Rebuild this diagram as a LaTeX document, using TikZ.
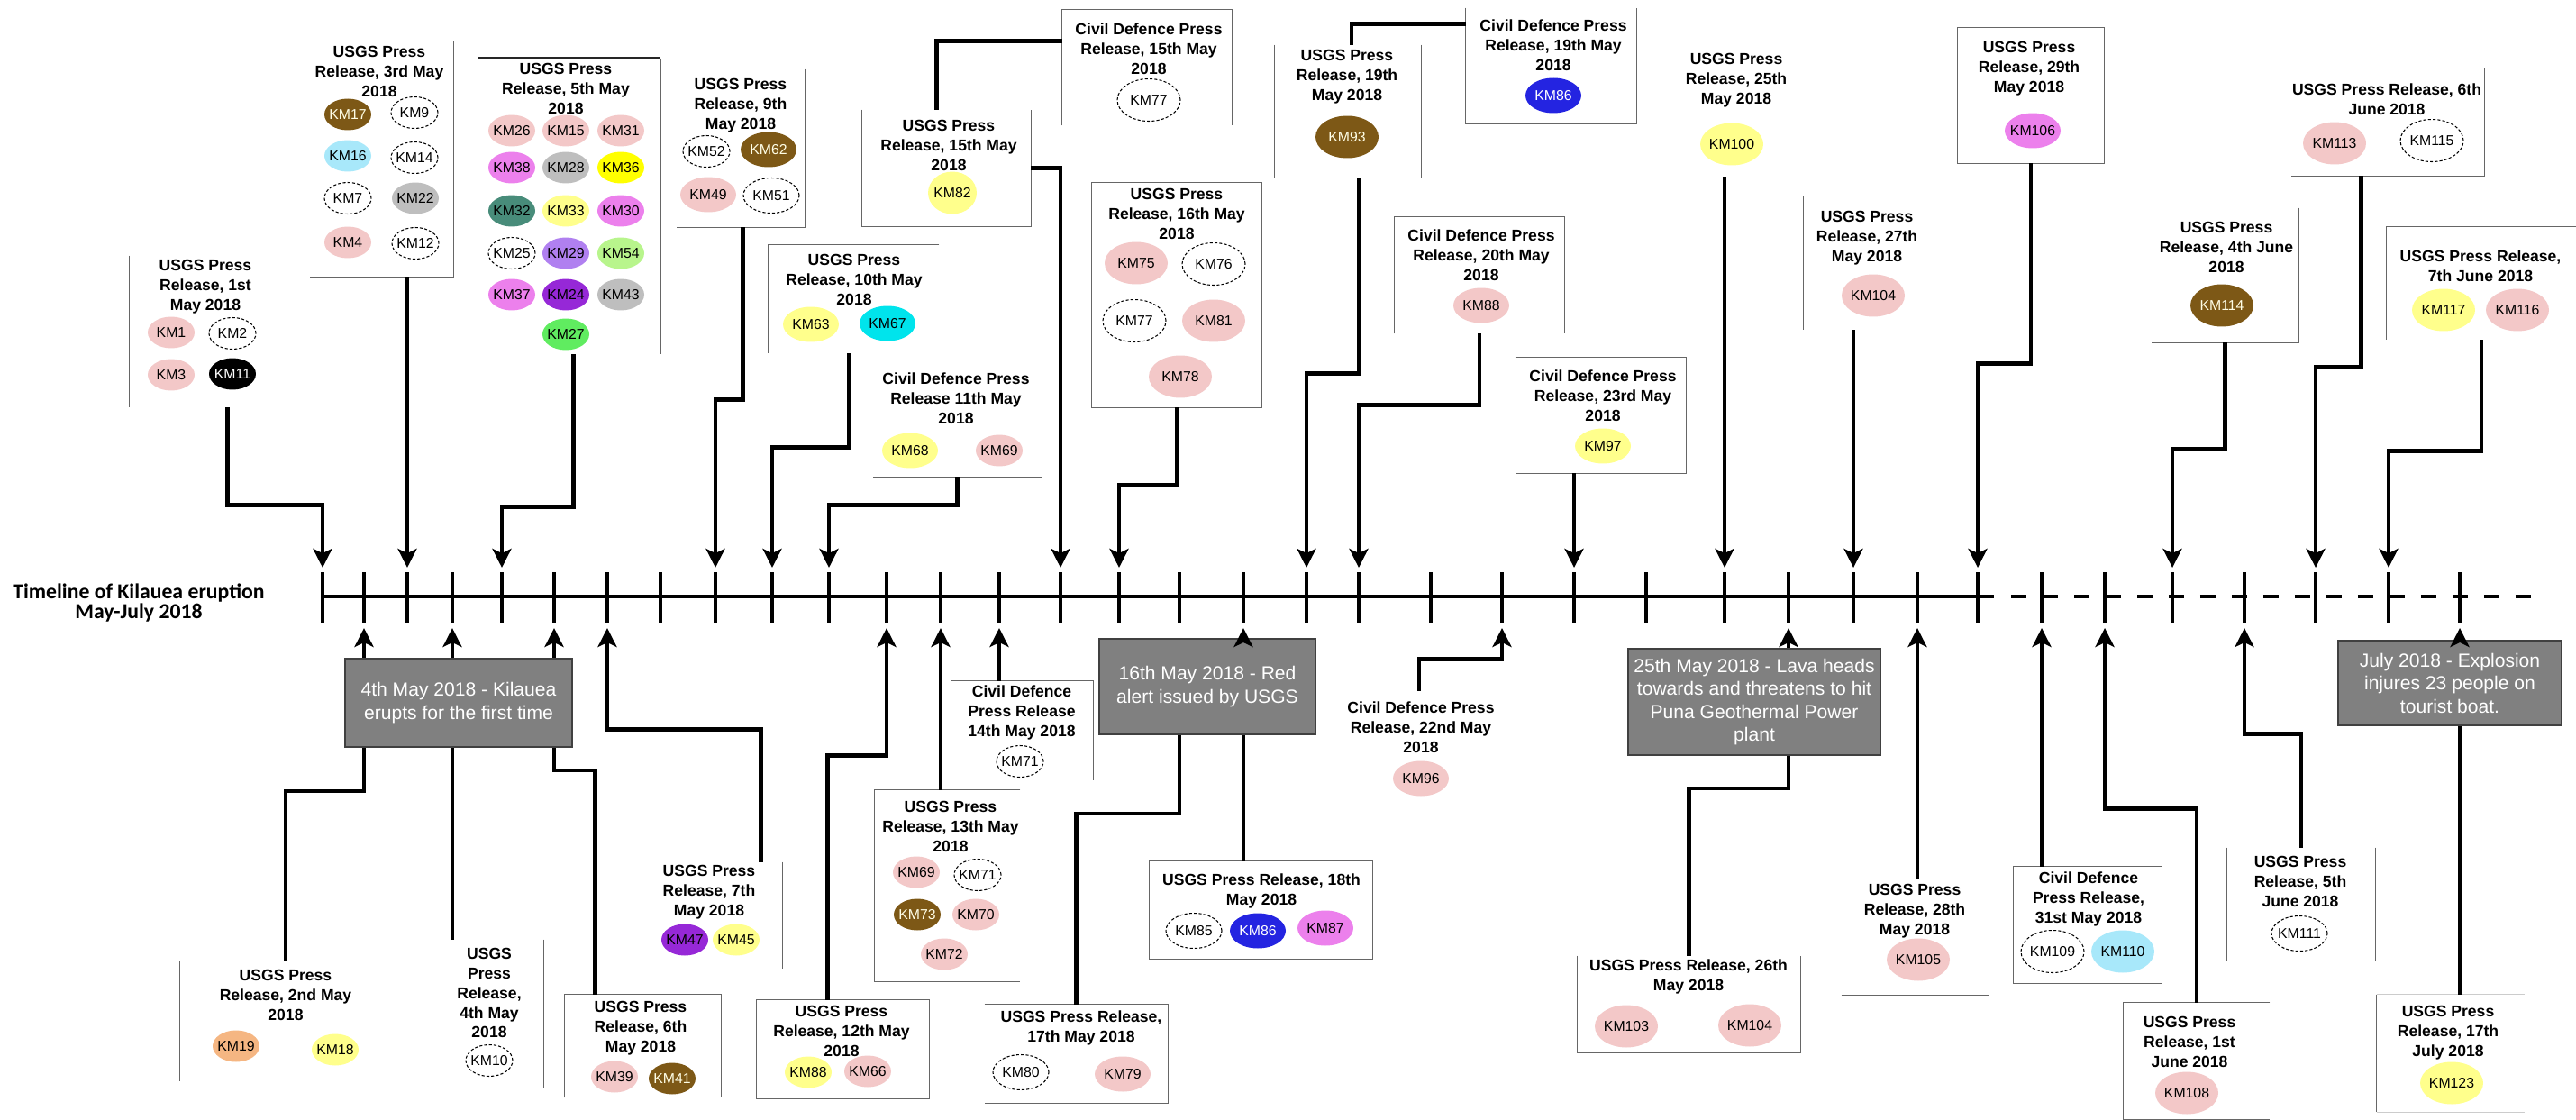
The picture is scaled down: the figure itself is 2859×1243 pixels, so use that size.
\documentclass[tikz,border=0pt]{standalone}
\usepackage{fontspec}
\setmainfont{Liberation Sans}
\newfontfamily\calibri{Carlito}
\usetikzlibrary{shapes.geometric, arrows.meta, positioning, fit, calc}

\definecolor{kmpink}{RGB}{243,200,200}
\definecolor{kmbrown}{RGB}{125,88,22}
\definecolor{kmsky}{RGB}{168,232,250}
\definecolor{kmgray}{RGB}{190,190,190}
\definecolor{kmviolet}{RGB}{236,128,236}
\definecolor{kmyellow}{RGB}{255,255,0}
\definecolor{kmcream}{RGB}{255,255,140}
\definecolor{kmteal}{RGB}{72,140,122}
\definecolor{kmlilac}{RGB}{176,128,240}
\definecolor{kmlime}{RGB}{184,245,140}
\definecolor{kmpurple}{RGB}{150,40,215}
\definecolor{kmgreen}{RGB}{96,236,96}
\definecolor{kmcyan}{RGB}{0,228,236}
\definecolor{kmblue}{RGB}{36,36,225}
\definecolor{kmorange}{RGB}{245,182,130}
\definecolor{evgray}{RGB}{128,128,128}

\begin{document}
\begin{tikzpicture}[
    x=0.02cm, y=-0.02cm, % one unit = one pixel of the scan
    axis/.style={line width=2.6pt},
    conn/.style={line width=2.6pt},
    arr/.style={conn, -{Stealth[length=0.42cm, width=0.42cm, inset=0.1cm]}},
    area/.style={inner sep=0pt, draw=none},
    frame/.style={draw=black!60, line width=0.8pt},
    head/.style={font=\bfseries\fontsize{10}{12.5}\selectfont, align=center, inner sep=0pt},
    event/.style={
      rectangle,
      fill=evgray,
      draw=black!75,
      line width=1.2pt,
      text=white,
      align=center,
      inner sep=0pt,
      font=\fontsize{12}{14.5}\selectfont
    },
    km/.style={ellipse, inner xsep=-4pt, inner ysep=0pt, minimum width=1.04cm, minimum height=0.7cm, font=\fontsize{9}{10}\selectfont},
    mid/.style={minimum width=1.24cm, minimum height=0.78cm},
    big/.style={minimum width=1.4cm, minimum height=0.94cm},
    kpink/.style={km, fill=kmpink},
    kbrown/.style={km, fill=kmbrown, text=white!90!yellow},
    ksky/.style={km, fill=kmsky},
    kgray/.style={km, fill=kmgray},
    kviolet/.style={km, fill=kmviolet},
    kyellow/.style={km, fill=kmyellow},
    kcream/.style={km, fill=kmcream},
    kteal/.style={km, fill=kmteal},
    klilac/.style={km, fill=kmlilac},
    klime/.style={km, fill=kmlime},
    kpurple/.style={km, fill=kmpurple},
    kgreen/.style={km, fill=kmgreen},
    kcyan/.style={km, fill=kmcyan},
    kblue/.style={km, fill=kmblue, text=white},
    korange/.style={km, fill=kmorange},
    kblack/.style={km, fill=black, text=white},
    kdash/.style={km, draw, line width=0.6pt, dash pattern=on 1.8pt off 1.2pt}
  ]

  \fill[white] (0,0) rectangle (2859,1243);
  \useasboundingbox (0,0) rectangle (2859,1243);

  % Timeline
  \node[font=\calibri\bfseries\fontsize{13.5}{12.5}\selectfont, align=center] (title) at (154,669) {Timeline of Kilauea eruption\\May-July 2018};
  \draw[axis] (358,662) -- (2213,662);
  \draw[axis, dash pattern=on 0.34cm off 0.36cm] (2232,662) -- (2824,662);
  \foreach \tx [count=\i] in {358,404,452,502,557,615,674,733,794,857,920,984,1044,1109,1177,1242,1309,1380,1450,1508,1588,1667,1747,1827,1914,1985,2057,2128,2195,2266,2336,2411,2491,2570,2651,2730} {
    \draw[axis] (\tx,635) -- (\tx,691);
    \coordinate (a\i) at (\tx,630);
    \coordinate (b\i) at (\tx,697);
  }

  % Press releases above the line
  \node[area, fit={(144,284) (312,452)}] (may01) {};
  \draw[frame] (may01.north west) -- (may01.south west);
  \node[head] (may01t) at (228,318) {USGS Press\\Release, 1st\\May 2018};
  \node[kpink] (m01k1) at (190,369) {KM1};
  \node[kdash] (m01k2) at (258,370) {KM2};
  \node[kpink] (m01k3) at (190,416) {KM3};
  \node[kblack] (m01k11) at (258,415) {KM11};

  \node[area, fit={(344,46) (503,307)}] (may03) {};
  \draw[frame] (may03.north west) -- (may03.north east) -- (may03.south east) -- (may03.south west);
  \node[head] (may03t) at (421,79) {USGS Press\\Release, 3rd May\\2018};
  \node[kbrown] (m03k17) at (386,127) {KM17};
  \node[kdash] (m03k9) at (460,125) {KM9};
  \node[ksky] (m03k16) at (386,173) {KM16};
  \node[kdash] (m03k14) at (460,175) {KM14};
  \node[kdash] (m03k7) at (386,220) {KM7};
  \node[kgray] (m03k22) at (461,220) {KM22};
  \node[kpink] (m03k4) at (386,269) {KM4};
  \node[kdash] (m03k12) at (461,270) {KM12};

  \node[area, fit={(531,65) (733,393)}] (may05) {};
  \draw[frame] (may05.south west) -- (may05.north west) (may05.north east) -- (may05.south east);
  \draw[frame, draw=black!85, line width=1.4pt] (may05.north west) -- (may05.north east);
  \node[head] (may05t) at (628,98) {USGS Press\\Release, 5th May\\2018};
  \node[kpink] (m05k26) at (568,145) {KM26};
  \node[kpink] (m05k15) at (628,145) {KM15};
  \node[kpink] (m05k31) at (689,145) {KM31};
  \node[kviolet] (m05k38) at (568,186) {KM38};
  \node[kgray] (m05k28) at (628,186) {KM28};
  \node[kyellow] (m05k36) at (689,186) {KM36};
  \node[kteal] (m05k32) at (568,234) {KM32};
  \node[kcream] (m05k33) at (628,234) {KM33};
  \node[kviolet] (m05k30) at (689,234) {KM30};
  \node[kdash] (m05k25) at (568,281) {KM25};
  \node[klilac] (m05k29) at (628,281) {KM29};
  \node[klime] (m05k54) at (689,281) {KM54};
  \node[kviolet] (m05k37) at (568,327) {KM37};
  \node[kpurple] (m05k24) at (628,327) {KM24};
  \node[kgray] (m05k43) at (689,327) {KM43};
  \node[kgreen] (m05k27) at (628,371) {KM27};

  \node[area, fit={(751,77) (893,252)}] (may09) {};
  \draw[frame] (may09.north east) -- (may09.south east) -- (may09.south west);
  \node[head] (may09t) at (822,117) {USGS Press\\Release, 9th\\May 2018};
  \node[kdash] (m09k52) at (784,168) {KM52};
  \node[kbrown, mid] (m09k62) at (853,166) {KM62};
  \node[kpink, mid] (m09k49) at (786,216) {KM49};
  \node[kdash, mid] (m09k51) at (856,217) {KM51};

  \node[area, fit={(853,272) (1042,392)}] (may10) {};
  \draw[frame] (may10.north east) -- (may10.north west) -- (may10.south west);
  \node[head] (may10t) at (948,310) {USGS Press\\Release, 10th May\\2018};
  \node[kcream, mid] (m10k63) at (900,360) {KM63};
  \node[kcyan, mid] (m10k67) at (985,359) {KM67};

  \node[area, fit={(969,409) (1156,529)}] (may11) {};
  \draw[frame] (may11.north east) -- (may11.south east) -- (may11.south west);
  \node[head] (may11t) at (1061,442) {Civil Defence Press\\Release 11th May\\2018};
  \node[kcream, mid] (m11k68) at (1010,500) {KM68};
  \node[kpink] (m11k69) at (1109,500) {KM69};

  \node[area, fit={(957,122) (1144,251)}] (may15) {};
  \draw[frame] (may15.north west) -- (may15.south west) -- (may15.south east) -- (may15.north east);
  \node[head] (may15t) at (1053,161) {USGS Press\\Release, 15th May\\2018};
  \node[kcream, minimum width=1.08cm, minimum height=0.94cm] (m15k82) at (1057,214) {KM82};

  \node[area, fit={(1179,11) (1367,139)}] (may15cd) {};
  \draw[frame] (may15cd.south west) -- (may15cd.north west) -- (may15cd.north east) -- (may15cd.south east);
  \node[head] (may15cdt) at (1275,54) {Civil Defence Press\\Release, 15th May\\2018};
  \node[kdash, big] (c15k77) at (1275,111) {KM77};

  \node[area, fit={(1212,203) (1400,452)}] (may16) {};
  \draw[frame] (may16.north west) rectangle (may16.south east);
  \node[head] (may16t) at (1306,237) {USGS Press\\Release, 16th May\\2018};
  \node[kpink, big] (m16k75) at (1261,292) {KM75};
  \node[kdash, big] (m16k76) at (1347,293) {KM76};
  \node[kdash, big] (m16k77) at (1259,356) {KM77};
  \node[kpink, big] (m16k81) at (1347,356) {KM81};
  \node[kpink, big] (m16k78) at (1310,418) {KM78};

  \node[area, fit={(1415,50) (1577,198)}] (may19) {};
  \draw[frame] (may19.north west) -- (may19.south west) (may19.north east) -- (may19.south east);
  \node[head] (may19t) at (1495,85) {USGS Press\\Release, 19th\\May 2018};
  \node[kbrown, big] (m19k93) at (1495,152) {KM93};

  \node[area, fit={(1627,9) (1816,137)}] (may19cd) {};
  \draw[frame] (may19cd.north west) -- (may19cd.south west) -- (may19cd.south east) -- (may19cd.north east);
  \node[head] (may19cdt) at (1724,50) {Civil Defence Press\\Release, 19th May\\2018};
  \node[kblue, mid] (c19k86) at (1724,106) {KM86};

  \node[area, fit={(1548,241) (1736,370)}] (may20) {};
  \draw[frame] (may20.south west) -- (may20.north west) -- (may20.north east) -- (may20.south east);
  \node[head] (may20t) at (1644,283) {Civil Defence Press\\Release, 20th May\\2018};
  \node[kpink, mid] (c20k88) at (1644,339) {KM88};

  \node[area, fit={(1682,397) (1871,525)}] (may23) {};
  \draw[frame] (may23.north west) -- (may23.north east) -- (may23.south east) -- (may23.south west);
  \node[head] (may23t) at (1779,439) {Civil Defence Press\\Release, 23rd May\\2018};
  \node[kcream, mid] (c23k97) at (1779,495) {KM97};

  \node[area, fit={(1844,46) (2007,196)}] (may25) {};
  \draw[frame] (may25.north east) -- (may25.north west) -- (may25.south west);
  \node[head] (may25t) at (1927,89) {USGS Press\\Release, 25th\\May 2018};
  \node[kcream, big] (m25k100) at (1922,160) {KM100};

  \node[area, fit={(2002,218) (2142,366)}] (may27) {};
  \draw[frame] (may27.north west) -- (may27.south west);
  \node[head] (may27t) at (2072,264) {USGS Press\\Release, 27th\\May 2018};
  \node[kpink, big] (m27k104) at (2079,328) {KM104};

  \node[area, fit={(2173,31) (2335,181)}] (may29) {};
  \draw[frame] (may29.north west) rectangle (may29.south east);
  \node[head] (may29t) at (2252,76) {USGS Press\\Release, 29th\\May 2018};
  \node[kviolet, mid] (m29k106) at (2256,145) {KM106};

  \node[area, fit={(2388,231) (2551,380)}] (jun04) {};
  \draw[frame] (jun04.north east) -- (jun04.south east) -- (jun04.south west);
  \node[head] (jun04t) at (2471,274) {USGS Press\\Release, 4th June\\2018};
  \node[kbrown, big] (j04k114) at (2466,339) {KM114};

  \node[area, fit={(2543,76) (2757,195)}] (jun06) {};
  \draw[frame] (jun06.north west) -- (jun06.north east) -- (jun06.south east) -- (jun06.south west);
  \node[head] (jun06t) at (2649,110) {USGS Press Release, 6th\\June 2018};
  \node[kpink, big] (j06k113) at (2591,159) {KM113};
  \node[kdash, big] (j06k115) at (2699,156) {KM115};

  \node[area, fit={(2649,252) (2859,377)}] (jun07) {};
  \draw[frame] (jun07.north east) -- (jun07.north west) -- (jun07.south west);
  \node[head] (jun07t) at (2753,295) {USGS Press Release,\\7th June 2018};
  \node[kcream, big] (j07k117) at (2712,344) {KM117};
  \node[kpink, big] (j07k116) at (2794,344) {KM116};

  % Events and press releases below the line
  \node[event, minimum width=5.04cm, minimum height=1.96cm] (erupt) at (509,780) {4th May 2018 - Kilauea\\erupts for the first time};
  \node[event, minimum width=4.8cm, minimum height=2.12cm] (alert) at (1340,762) {16th May 2018 - Red\\alert issued by USGS};
  \node[event, minimum width=5.6cm, minimum height=2.36cm] (lava) at (1947,779) {25th May 2018 - Lava heads\\towards and threatens to hit\\Puna Geothermal Power\\plant};
  \node[event, minimum width=4.96cm, minimum height=1.88cm] (boat) at (2719,758) {July 2018 - Explosion\\injures 23 people on\\tourist boat.};

  \node[area, fit={(200,1067) (434,1200)}] (may02) {};
  \draw[frame] (may02.north west) -- (may02.south west);
  \node[head] (may02t) at (317,1104) {USGS Press\\Release, 2nd May\\2018};
  \node[korange] (m02k19) at (262,1161) {KM19};
  \node[kcream] (m02k18) at (372,1165) {KM18};

  \node[area, fit={(483,1043) (603,1207)}] (may04) {};
  \draw[frame] (may04.north east) -- (may04.south east) -- (may04.south west);
  \node[head] (may04t) at (543,1102) {USGS\\Press\\Release,\\4th May\\2018};
  \node[kdash] (m04k10) at (543,1177) {KM10};

  \node[area, fit={(627,1104) (800,1218)}] (may06) {};
  \draw[frame] (may06.south west) -- (may06.north west) -- (may06.north east) -- (may06.south east);
  \node[head] (may06t) at (711,1141) {USGS Press\\Release, 6th\\May 2018};
  \node[kpink] (m06k39) at (682,1195) {KM39};
  \node[kbrown] (m06k41) at (746,1197) {KM41};

  \node[area, fit={(705,957) (868,1075)}] (may07) {};
  \draw[frame] (may07.north east) -- (may07.south east);
  \node[head] (may07t) at (787,990) {USGS Press\\Release, 7th\\May 2018};
  \node[kpurple] (m07k47) at (760,1043) {KM47};
  \node[kcream] (m07k45) at (817,1043) {KM45};

  \node[area, fit={(840,1110) (1031,1219)}] (may12) {};
  \draw[frame] (may12.north west) rectangle (may12.south east);
  \node[head] (may12t) at (934,1144) {USGS Press\\Release, 12th May\\2018};
  \node[kcream] (m12k88) at (897,1190) {KM88};
  \node[kpink] (m12k66) at (963,1189) {KM66};

  \node[area, fit={(1056,756) (1213,866)}] (may14) {};
  \draw[frame] (may14.south west) -- (may14.north west) -- (may14.north east) -- (may14.south east);
  \node[head] (may14t) at (1134,791) {Civil Defence\\Press Release\\14th May 2018};
  \node[kdash] (c14k71) at (1132,845) {KM71};

  \node[area, fit={(971,877) (1132,1089)}] (may13) {};
  \draw[frame] (may13.north east) -- (may13.north west) -- (may13.south west) -- (may13.south east);
  \node[head] (may13t) at (1055,917) {USGS Press\\Release, 13th May\\2018};
  \node[kpink] (m13k69) at (1017,968) {KM69};
  \node[kdash] (m13k71) at (1085,971) {KM71};
  \node[kbrown] (m13k73) at (1018,1015) {KM73};
  \node[kpink] (m13k70) at (1083,1015) {KM70};
  \node[kpink] (m13k72) at (1048,1059) {KM72};

  \node[area, fit={(1093,1115) (1296,1224)}] (may17) {};
  \draw[frame] (may17.north west) -- (may17.north east) -- (may17.south east) -- (may17.south west);
  \node[head] (may17t) at (1200,1141) {USGS Press Release,\\17th May 2018};
  \node[kdash, mid] (m17k80) at (1133,1190) {KM80};
  \node[kpink, mid] (m17k79) at (1246,1192) {KM79};

  \node[area, fit={(1276,956) (1523,1064)}] (may18) {};
  \draw[frame] (may18.north west) rectangle (may18.south east);
  \node[head] (may18t) at (1400,989) {USGS Press Release, 18th\\May 2018};
  \node[kdash, mid] (m18k85) at (1325,1033) {KM85};
  \node[kblue, mid] (m18k86) at (1396,1033) {KM86};
  \node[kviolet, mid] (m18k87) at (1471,1030) {KM87};

  \node[area, fit={(1481,767) (1669,894)}] (may22) {};
  \draw[frame] (may22.north west) -- (may22.south west) -- (may22.south east);
  \node[head] (may22t) at (1577,807) {Civil Defence Press\\Release, 22nd May\\2018};
  \node[kpink, mid] (c22k96) at (1577,864) {KM96};

  \node[area, fit={(1751,1061) (1998,1168)}] (may26) {};
  \draw[frame] (may26.north west) -- (may26.south west) -- (may26.south east) -- (may26.north east);
  \node[head] (may26t) at (1874,1084) {USGS Press Release, 26th\\May 2018};
  \node[kpink, big] (m26k103) at (1805,1139) {KM103};
  \node[kpink, big] (m26k104) at (1942,1138) {KM104};

  \node[area, fit={(2044,976) (2207,1104)}] (may28) {};
  \draw[frame] (may28.north west) -- (may28.north east) (may28.south west) -- (may28.south east);
  \node[head] (may28t) at (2125,1011) {USGS Press\\Release, 28th\\May 2018};
  \node[kpink, big] (m28k105) at (2129,1065) {KM105};

  \node[area, fit={(2235,962) (2399,1091)}] (may31) {};
  \draw[frame] (may31.north west) rectangle (may31.south east);
  \node[head] (may31t) at (2318,998) {Civil Defence\\Press Release,\\31st May 2018};
  \node[kdash, big] (c31k109) at (2278,1056) {KM109};
  \node[ksky, big] (c31k110) at (2356,1056) {KM110};

  \node[area, fit={(2357,1113) (2519,1242)}] (jun01) {};
  \draw[frame] (jun01.north east) -- (jun01.north west) -- (jun01.south west) -- (jun01.south east);
  \node[head] (jun01t) at (2430,1156) {USGS Press\\Release, 1st\\June 2018};
  \node[kpink, big] (j01k108) at (2427,1213) {KM108};

  \node[area, fit={(2472,941) (2636,1067)}] (jun05) {};
  \draw[frame] (jun05.north west) -- (jun05.south west) (jun05.north east) -- (jun05.south east);
  \node[head] (jun05t) at (2553,978) {USGS Press\\Release, 5th\\June 2018};
  \node[kdash, mid] (j05k111) at (2552,1036) {KM111};

  \node[area, fit={(2638,1104) (2802,1234)}] (jul17) {};
  \draw[frame] (jul17.north west) -- (jul17.south west);
  \draw[frame, draw=black!20] (jul17.north west) -- (jul17.north east) (jul17.south west) -- (jul17.south east);
  \node[head] (jul17t) at (2717,1146) {USGS Press\\Release, 17th\\July 2018};
  \node[kcream, big] (l17k123) at (2721,1202) {KM123};

  % Connectors from above
  \draw[arr] ($(may01.south west)+(109,0)$) -- ++(0,108) -| (a1);
  \draw[arr] (a3 |- may03.south) -- (a3);
  \draw[arr] ($(may05.south west)+(106,0)$) -- ++(0,169) -| (a5);
  \draw[arr] ($(may09.south west)+(74,0)$) -- ++(0,191) -| (a9);
  \draw[arr] ($(may10.south west)+(90,0)$) -- ++(0,104) -| (a10);
  \draw[arr] (may11.south) -- ++(0,31) -| (a11);
  \draw[conn] ($(may15cd.north west)+(0,35)$) -| ($(may15.north west)+(83,0)$);
  \draw[arr] ($(may15.south east)+(0,-65)$) -| (a15);
  \draw[arr] (may16.south) -- ++(0,86) -| (a16);
  \draw[conn] ($(may19.north)+(4,0)$) |- ($(may19cd.north west)+(0,18)$);
  \draw[arr] ($(may19.south)+(12,0)$) -- ++(0,216) -| (a19);
  \draw[arr] (may20.south) -- ++(0,79) -| (a20);
  \draw[arr] (a23 |- may23.south) -- (a23);
  \draw[arr] (a25 |- may25.south) -- (a25);
  \draw[arr] (a27 |- may27.south) -- (a27);
  \draw[arr] (may29.south) -- ++(0,222) -| (a29);
  \draw[arr] (jun04.south) -- ++(0,118) -| (a32);
  \draw[arr] ($(jun06.south west)+(78,0)$) -- ++(0,212) -| (a34);
  \draw[arr] (jun07.south) -- ++(0,123) -| (a35);

  % Connectors from below
  \draw[arr] (b2 |- erupt.north) -- (b2);
  \draw[arr] (b4 |- erupt.north) -- (b4);
  \draw[arr] (b6 |- erupt.north) -- (b6);
  \draw[conn] (erupt.south -| b2) -- ++(0,48) -| (may02.north);
  \draw[conn] (erupt.south -| b4) -- (b4 |- may04.north);
  \draw[conn] (erupt.south -| b6) -- ++(0,25) -| ($(may06.north west)+(34,0)$);
  \draw[arr] ($(may07.north)+(58,0)$) -- ++(0,-147) -| (b7);
  \draw[arr] ($(may12.north west)+(79,0)$) -- ++(0,-271) -| (b12);
  \draw[arr] (b13 |- may13.north) -- (b13);
  \draw[arr] (b14 |- may14.north) -- (b14);
  \draw[arr] (b18 |- alert.north) -- (b18);
  \draw[conn] (alert.south -| b17) -- ++(0,87) -| (may17.north);
  \draw[conn] (alert.south -| b18) -- (b18 |- may18.north);
  \draw[arr] (may22.north) -- ++(0,-35) -| (b22);
  \draw[arr] (b26 |- lava.north) -- (b26);
  \draw[conn] (lava.south -| b26) -- ++(0,36) -| (may26.north);
  \draw[arr] (b28 |- may28.north) -- (b28);
  \draw[arr] (b30 |- may31.north) -- (b30);
  \draw[arr] (jun01.north) -- ++(0,-215) -| (b31);
  \draw[arr] (jun05.north) -- ++(0,-126) -| (b33);
  \draw[arr] (b36 |- boat.north) -- (b36);
  \draw[conn] (boat.south -| b36) -- (b36 |- jul17.north);

\end{tikzpicture}
\end{document}
